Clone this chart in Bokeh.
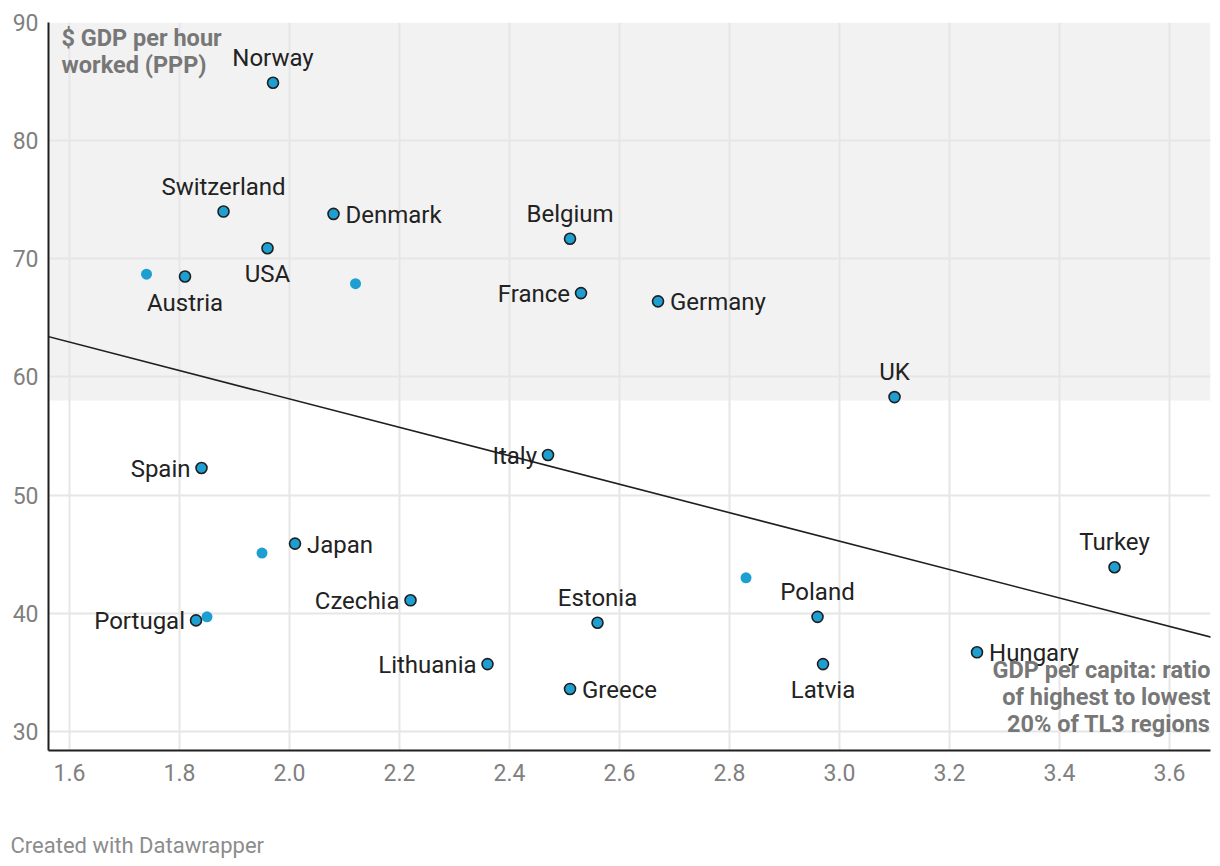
from bokeh.plotting import figure
from bokeh.models import (ColumnDataSource, Range1d, FixedTicker, PrintfTickFormatter,
                          BoxAnnotation, Slope, Label, Title)
from bokeh.core.properties import value
from bokeh.embed import file_html
from bokeh.resources import INLINE

# ---- data ----
countries = ["Norway", "Switzerland", "Denmark", "USA", "Austria", "Belgium", "France",
             "Germany", "UK", "Italy", "Spain", "Japan", "Czechia", "Portugal", "Estonia",
             "Lithuania", "Greece", "Poland", "Latvia", "Hungary", "Turkey"]
ratio = [1.97, 1.88, 2.08, 1.96, 1.81, 2.51, 2.53,
         2.67, 3.10, 2.47, 1.84, 2.01, 2.22, 1.83, 2.56,
         2.36, 2.51, 2.96, 2.97, 3.25, 3.50]
gdp_hour = [84.9, 74.0, 73.8, 70.9, 68.5, 71.7, 67.1,
            66.4, 58.3, 53.4, 52.3, 45.9, 41.1, 39.4, 39.2,
            35.7, 33.6, 39.7, 35.7, 36.7, 43.9]

other_ratio = [1.74, 2.12, 1.95, 1.85, 2.83]
other_gdp_hour = [68.7, 67.9, 45.1, 39.7, 43.0]

trend_intercept = 82.2
trend_slope = -12.03
shade_from = 58.0

x_ticks = [1.6, 1.8, 2.0, 2.2, 2.4, 2.6, 2.8, 3.0, 3.2, 3.4, 3.6]
y_ticks = [30, 40, 50, 60, 70, 80, 90]

# label placement (style only)
placement = {"Norway": "above", "Switzerland": "above", "Denmark": "right", "USA": "below",
             "Austria": "below", "Belgium": "above", "France": "left", "Germany": "right",
             "UK": "above", "Italy": "left", "Spain": "left", "Japan": "right",
             "Czechia": "left", "Portugal": "left", "Estonia": "above", "Lithuania": "left",
             "Greece": "right", "Poland": "above", "Latvia": "below", "Hungary": "right",
             "Turkey": "above"}

FONT = "Roboto"
DOT = "#1e9fd2"
DARK = "#1f1f1f"
GREY = "#777777"
X0, X1 = 1.5618, 3.6745
Y0, Y1 = 28.39, 90.0

p = figure(width=1212, height=866, output_backend="svg", toolbar_location=None,
           x_range=Range1d(X0, X1), y_range=Range1d(Y0, Y1),
           min_border_left=48, min_border_right=2, min_border_top=22, min_border_bottom=116)
p.outline_line_color = None
p.background_fill_color = "white"
p.border_fill_color = "white"

p.add_layout(BoxAnnotation(bottom=shade_from, fill_color="#f2f2f2", fill_alpha=1.0,
                           line_color=None, level="image"))

for ax in (p.xaxis[0], p.yaxis[0]):
    ax.axis_line_color = DARK
    ax.axis_line_width = 2
    ax.major_tick_line_color = None
    ax.minor_tick_line_color = None
    ax.major_tick_in = 0
    ax.major_tick_out = 0
    ax.minor_tick_in = 0
    ax.minor_tick_out = 0
    ax.major_label_text_font = FONT
    ax.major_label_text_font_size = "23px"
    ax.major_label_text_color = "#808080"

p.xaxis.ticker = FixedTicker(ticks=x_ticks)
p.xaxis.formatter = PrintfTickFormatter(format="%.1f")
p.xaxis.major_label_standoff = 13
p.yaxis.ticker = FixedTicker(ticks=y_ticks)
p.yaxis.major_label_standoff = 10

p.xgrid.ticker = FixedTicker(ticks=x_ticks)
p.ygrid.ticker = FixedTicker(ticks=y_ticks)
for g in (p.xgrid[0], p.ygrid[0]):
    g.grid_line_color = "#e6e6e6"
    g.grid_line_width = 2

p.add_layout(Slope(gradient=trend_slope, y_intercept=trend_intercept,
                   line_color=DARK, line_width=1.6))

p.scatter(other_ratio, other_gdp_hour, size=11, fill_color=DOT, line_color=None)
p.scatter(ratio, gdp_hour, size=11, fill_color=DOT, line_color=DARK, line_width=1.6)

offsets = {"above": (0, -25, "center"), "below": (0, 26, "center"),
           "left": (-11, 1, "right"), "right": (12, 1, "left")}
for side, (dx, dy, align) in offsets.items():
    idx = [i for i, c in enumerate(countries) if placement[c] == side]
    src = ColumnDataSource(dict(x=[ratio[i] for i in idx], y=[gdp_hour[i] for i in idx],
                                t=[countries[i] for i in idx]))
    p.text(x="x", y="y", text="t", source=src, x_offset=dx, y_offset=dy,
           text_align=align, text_baseline="middle", text_font=value(FONT),
           text_font_size="24px", text_color="#222222")

# axis titles inside the plot
for i, line in enumerate(["$ GDP per hour", "worked (PPP)"]):
    p.add_layout(Label(x=X0, y=Y1, x_offset=13, y_offset=-15 - 27 * i,
                       text=line, text_font=FONT, text_font_size="23.5px",
                       text_font_style="bold", text_color=GREY,
                       text_align="left", text_baseline="middle"))
for i, line in enumerate(["GDP per capita: ratio", "of highest to lowest", "20% of TL3 regions"]):
    p.add_layout(Label(x=X1, y=Y0, x_offset=0, y_offset=81 - 27 * i,
                       text=line, text_font=FONT, text_font_size="23.5px",
                       text_font_style="bold", text_color=GREY,
                       text_align="right", text_baseline="middle"))

# spacer, then footer
p.add_layout(Title(text=" ", text_font_size="1px", standoff=46), "below")
p.add_layout(Title(text="Created with Datawrapper", align="left", offset=-38, standoff=0,
                   vertical_align="top",
                   text_font=FONT, text_font_size="22px", text_font_style="normal",
                   text_color="#8c8c8c"), "below")

open("out.html", "w").write(file_html(p, INLINE))
